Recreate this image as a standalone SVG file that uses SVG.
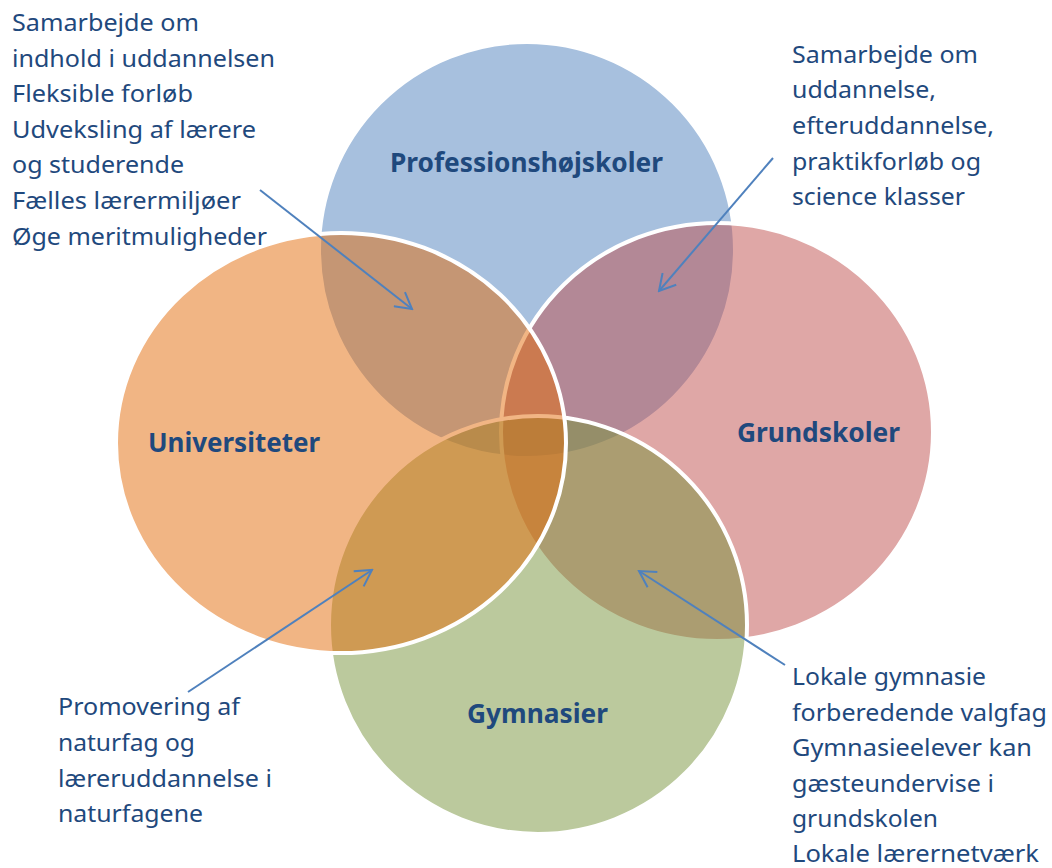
<svg xmlns="http://www.w3.org/2000/svg" width="1052" height="868" viewBox="0 0 1052 868">
<style>
.c{stroke:#FFFFFF;stroke-width:4;fill-opacity:0.5}
.lbl{font-family:"Noto Sans","Liberation Sans",sans-serif;font-weight:bold;font-size:26px;fill:#1F497D}
.note{font-family:"Noto Sans","Liberation Sans",sans-serif;font-size:24px;fill:#1F497D}
.arr{stroke:#4F81BD;stroke-width:2;fill:none;marker-end:url(#ah)}
</style>
<defs>
<marker id="ah" viewBox="0 0 20 20" refX="18" refY="10" markerUnits="userSpaceOnUse" markerWidth="20" markerHeight="20" orient="auto">
<path d="M2,1 L18,10 L2,19" fill="none" stroke="#4F81BD" stroke-width="2"/>
</marker>
</defs>
<rect width="1052" height="868" fill="#FFFFFF"/>
<g id="node-professionshojskoler">
<circle class="c" cx="527" cy="250" r="208" fill="#4F81BD"/>
<text class="lbl" x="390" y="172" textLength="273" lengthAdjust="spacingAndGlyphs">Professionshøjskoler</text>
</g>
<g id="node-grundskoler">
<ellipse class="c" cx="717" cy="432" rx="216" ry="209" fill="#C0504D"/>
<text class="lbl" x="737" y="442" textLength="163" lengthAdjust="spacingAndGlyphs">Grundskoler</text>
</g>
<g id="node-gymnasier">
<circle class="c" cx="538" cy="625" r="209" fill="#77933C"/>
<text class="lbl" x="467" y="723" textLength="141" lengthAdjust="spacingAndGlyphs">Gymnasier</text>
</g>
<g id="node-universiteter">
<ellipse class="c" cx="341" cy="443" rx="225" ry="210" fill="#E36C09"/>
<text class="lbl" x="148" y="452" textLength="172" lengthAdjust="spacingAndGlyphs">Universiteter</text>
</g>
<g id="note-top-left" class="note">
<text x="12" y="31" textLength="187" lengthAdjust="spacingAndGlyphs">Samarbejde om</text>
<text x="12" y="67" textLength="263" lengthAdjust="spacingAndGlyphs">indhold i uddannelsen</text>
<text x="12" y="102" textLength="181" lengthAdjust="spacingAndGlyphs">Fleksible forløb</text>
<text x="12" y="138" textLength="244" lengthAdjust="spacingAndGlyphs">Udveksling af lærere</text>
<text x="12" y="173" textLength="172" lengthAdjust="spacingAndGlyphs">og studerende</text>
<text x="12" y="209" textLength="229" lengthAdjust="spacingAndGlyphs">Fælles lærermiljøer</text>
<text x="12" y="245" textLength="255" lengthAdjust="spacingAndGlyphs">Øge meritmuligheder</text>
</g>
<g id="note-top-right" class="note">
<text x="792" y="63" textLength="186" lengthAdjust="spacingAndGlyphs">Samarbejde om</text>
<text x="792" y="98" textLength="144" lengthAdjust="spacingAndGlyphs">uddannelse,</text>
<text x="792" y="134" textLength="202" lengthAdjust="spacingAndGlyphs">efteruddannelse,</text>
<text x="792" y="170" textLength="189" lengthAdjust="spacingAndGlyphs">praktikforløb og</text>
<text x="792" y="205" textLength="173" lengthAdjust="spacingAndGlyphs">science klasser</text>
</g>
<g id="note-bottom-left" class="note">
<text x="58" y="715" textLength="182" lengthAdjust="spacingAndGlyphs">Promovering af</text>
<text x="58" y="751" textLength="137" lengthAdjust="spacingAndGlyphs">naturfag og</text>
<text x="58" y="787" textLength="214" lengthAdjust="spacingAndGlyphs">læreruddannelse i</text>
<text x="58" y="822" textLength="145" lengthAdjust="spacingAndGlyphs">naturfagene</text>
</g>
<g id="note-bottom-right" class="note">
<text x="792" y="685" textLength="194" lengthAdjust="spacingAndGlyphs">Lokale gymnasie</text>
<text x="792" y="721" textLength="255" lengthAdjust="spacingAndGlyphs">forberedende valgfag</text>
<text x="792" y="756" textLength="240" lengthAdjust="spacingAndGlyphs">Gymnasieelever kan</text>
<text x="792" y="792" textLength="202" lengthAdjust="spacingAndGlyphs">gæsteundervise i</text>
<text x="792" y="827" textLength="146" lengthAdjust="spacingAndGlyphs">grundskolen</text>
<text x="792" y="862" textLength="247" lengthAdjust="spacingAndGlyphs">Lokale lærernetværk</text>
</g>
<g id="connectors">
<line class="arr" x1="260" y1="190" x2="412" y2="309"/>
<line class="arr" x1="773" y1="158" x2="659" y2="291"/>
<line class="arr" x1="188" y1="692" x2="372" y2="570"/>
<line class="arr" x1="785" y1="665" x2="639" y2="571"/>
</g>
</svg>
